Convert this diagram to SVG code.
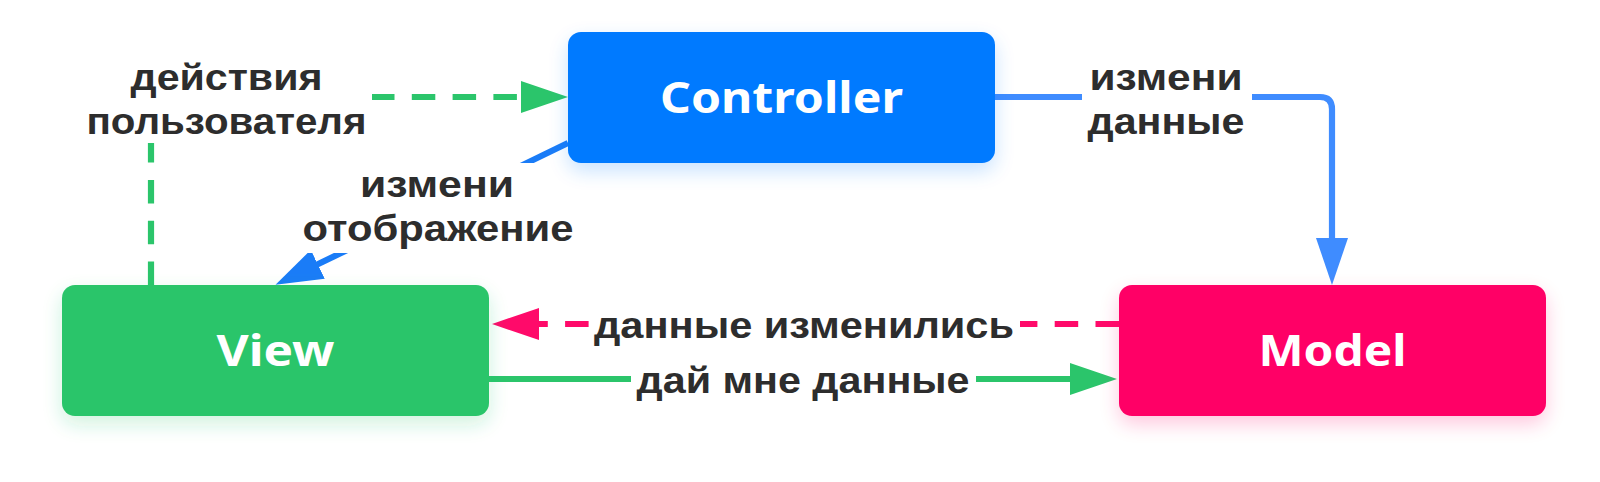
<svg xmlns="http://www.w3.org/2000/svg" width="1600" height="482" viewBox="0 0 1600 482">
<style>
.box-text{font-family:"Noto Sans","Open Sans","Liberation Sans",sans-serif;font-weight:700;font-size:43px;fill:#ffffff;text-anchor:middle}
.lbl{font-family:"Liberation Sans","DejaVu Sans",sans-serif;font-weight:700;font-size:36px;fill:#2d2d2d;text-anchor:middle}
.bg{fill:#ffffff}
.ln{fill:none;stroke-width:6.2}
.dash{stroke-dasharray:23.5 17.3}
</style>
<defs>
<filter id="glow" x="-20%" y="-30%" width="140%" height="170%">
<feGaussianBlur in="SourceGraphic" stdDeviation="10" result="b"/>
<feOffset in="b" dy="8" result="o"/>
<feComponentTransfer in="o" result="s"><feFuncA type="linear" slope="0.22"/></feComponentTransfer>
<feMerge><feMergeNode in="s"/><feMergeNode in="SourceGraphic"/></feMerge>
</filter>
<marker id="ahGreen" markerUnits="userSpaceOnUse" markerWidth="47" markerHeight="32" refX="7" refY="16" orient="auto"><path d="M0,0 L47,16 L0,32 z" fill="#2bc56b"/></marker>
<marker id="ahBlue" markerUnits="userSpaceOnUse" markerWidth="47" markerHeight="32" refX="7" refY="16" orient="auto"><path d="M0,0 L47,16 L0,32 z" fill="#3f8cff"/></marker>
<marker id="ahBlue2" markerUnits="userSpaceOnUse" markerWidth="47" markerHeight="32" refX="7" refY="16" orient="auto"><path d="M0,0 L47,16 L0,32 z" fill="#1a7cf7"/></marker>
<marker id="ahPink" markerUnits="userSpaceOnUse" markerWidth="47" markerHeight="32" refX="7" refY="16" orient="auto"><path d="M0,0 L47,16 L0,32 z" fill="#ff0a6a"/></marker>
</defs>
<rect width="1600" height="482" fill="#ffffff"/>
<g id="connectors">
<path class="ln dash" d="M151,285 V97 H528" stroke="#2bc56b" marker-end="url(#ahGreen)"/>
<path class="ln" d="M568,143 L311.5,267.3" stroke="#1a7cf7" marker-end="url(#ahBlue2)"/>
<path class="ln" d="M995,97 H1320 Q1332,97 1332,109 V245" stroke="#3f8cff" marker-end="url(#ahBlue)"/>
<path class="ln dash" d="M1119,324 H532" stroke="#ff0a6a" marker-end="url(#ahPink)"/>
<path class="ln" d="M489,379 H1077" stroke="#2bc56b" marker-end="url(#ahGreen)"/>
<rect class="bg" x="81" y="57" width="291" height="86"/>
<text class="lbl" x="226.5" y="90" textLength="192" lengthAdjust="spacingAndGlyphs">действия</text>
<text class="lbl" x="226.5" y="134" textLength="280" lengthAdjust="spacingAndGlyphs">пользователя</text>
<rect class="bg" x="296" y="163" width="284" height="90"/>
<text class="lbl" x="437" y="197" textLength="154" lengthAdjust="spacingAndGlyphs">измени</text>
<text class="lbl" x="438" y="241" textLength="271" lengthAdjust="spacingAndGlyphs">отображение</text>
<rect class="bg" x="1082" y="57" width="170" height="86"/>
<text class="lbl" x="1166" y="90" textLength="153" lengthAdjust="spacingAndGlyphs">измени</text>
<text class="lbl" x="1166" y="134" textLength="157" lengthAdjust="spacingAndGlyphs">данные</text>
<rect class="bg" x="589" y="304" width="431" height="43"/>
<text class="lbl" x="804" y="338" textLength="420" lengthAdjust="spacingAndGlyphs">данные изменились</text>
<rect class="bg" x="631" y="359" width="345" height="43"/>
<text class="lbl" x="803" y="393" textLength="333" lengthAdjust="spacingAndGlyphs">дай мне данные</text>
</g>
<g id="controller">
<rect x="568" y="32" width="427" height="131" rx="13" fill="#007aff" filter="url(#glow)"/>
<text class="box-text" x="781.5" y="113" textLength="243" lengthAdjust="spacingAndGlyphs">Controller</text>
</g>
<g id="view">
<rect x="62" y="285" width="427" height="131" rx="13" fill="#2bc56b" filter="url(#glow)"/>
<text class="box-text" x="275.5" y="366" textLength="118" lengthAdjust="spacingAndGlyphs">View</text>
</g>
<g id="model">
<rect x="1119" y="285" width="427" height="131" rx="13" fill="#ff0066" filter="url(#glow)"/>
<text class="box-text" x="1332.5" y="366" textLength="148" lengthAdjust="spacingAndGlyphs">Model</text>
</g>
</svg>
